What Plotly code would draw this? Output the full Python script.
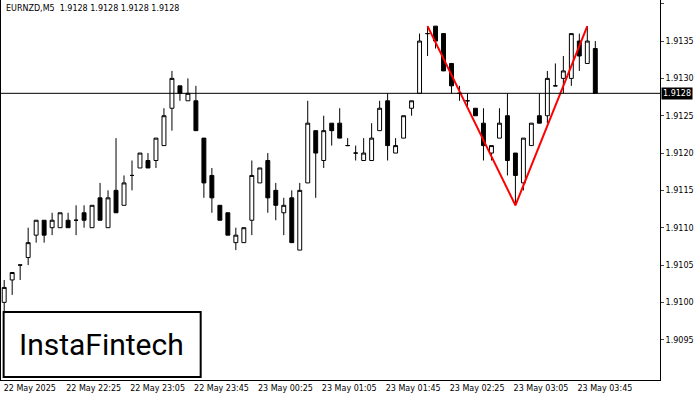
import plotly.graph_objects as go

# EURNZD M5, 22 May 21:45 .. 23 May 03:55
opens = [1.9100, 1.9103, 1.9105, 1.9106, 1.9109, 1.9111, 1.9110, 1.9110, 1.9111, 1.9111,
         1.9112, 1.9110, 1.9114, 1.9110, 1.9115, 1.9113, 1.9117, 1.9118, 1.9119, 1.9119,
         1.9121, 1.9126, 1.9129, 1.9127, 1.9127, 1.9122, 1.9117, 1.9113, 1.9112, 1.9108,
         1.9108, 1.9111, 1.9116, 1.9119, 1.9115, 1.9112, 1.9114, 1.9107, 1.9116, 1.9123,
         1.9119, 1.9124, 1.9124, 1.9121, 1.9120, 1.9119, 1.9119, 1.9123, 1.9127, 1.9120,
         1.9122, 1.9126, 1.9128, 1.9136, 1.9137, 1.9136, 1.9132, 1.9128, 1.9127, 1.9126,
         1.9124, 1.9120, 1.9122, 1.9125, 1.9120, 1.9116, 1.9121, 1.9125, 1.9125, 1.9129,
         1.9130, 1.9130, 1.9135, 1.9132, 1.9134]
highs = [1.9103, 1.9104, 1.9105, 1.9110, 1.9111, 1.9111, 1.9112, 1.9112, 1.9112, 1.9113,
         1.9113, 1.9113, 1.9116, 1.9115, 1.9122, 1.9117, 1.9119, 1.9120, 1.9120, 1.9122,
         1.9126, 1.9131, 1.9129, 1.9130, 1.9129, 1.9122, 1.9118, 1.9113, 1.9112, 1.9110,
         1.9110, 1.9119, 1.9118, 1.9120, 1.9116, 1.9114, 1.9115, 1.9116, 1.9127, 1.9123,
         1.9125, 1.9124, 1.9126, 1.9122, 1.9121, 1.9122, 1.9124, 1.9127, 1.9128, 1.9122,
         1.9125, 1.9127, 1.9136, 1.9137, 1.9137, 1.9136, 1.9132, 1.9129, 1.9128, 1.9126,
         1.9126, 1.9121, 1.9126, 1.9128, 1.9120, 1.9122, 1.9124, 1.9128, 1.9131, 1.9132,
         1.9133, 1.9136, 1.9136, 1.9137, 1.9135]
lows = [1.9097, 1.9101, 1.9103, 1.9105, 1.9108, 1.9108, 1.9109, 1.9110, 1.9110, 1.9109,
        1.9110, 1.9110, 1.9111, 1.9110, 1.9112, 1.9113, 1.9115, 1.9118, 1.9118, 1.9118,
        1.9121, 1.9123, 1.9127, 1.9127, 1.9123, 1.9114, 1.9112, 1.9111, 1.9109, 1.9107,
        1.9108, 1.9109, 1.9116, 1.9112, 1.9111, 1.9109, 1.9108, 1.9107, 1.9116, 1.9114,
        1.9118, 1.9121, 1.9122, 1.9121, 1.9119, 1.9119, 1.9119, 1.9123, 1.9119, 1.9120,
        1.9122, 1.9125, 1.9128, 1.9133, 1.9134, 1.9131, 1.9128, 1.9127, 1.9126, 1.9125,
        1.9119, 1.9119, 1.9122, 1.9117, 1.9113, 1.9115, 1.9121, 1.9124, 1.9124, 1.9129,
        1.9128, 1.9129, 1.9131, 1.9132, 1.9128]
closes = [1.9102, 1.9104, 1.9105, 1.9108, 1.9111, 1.9109, 1.9111, 1.9112, 1.9110, 1.9111,
          1.9111, 1.9113, 1.9111, 1.9114, 1.9112, 1.9116, 1.9117, 1.9120, 1.9118, 1.9122,
          1.9125, 1.9130, 1.9128, 1.9128, 1.9123, 1.9116, 1.9114, 1.9111, 1.9109, 1.9109,
          1.9110, 1.9117, 1.9118, 1.9114, 1.9113, 1.9113, 1.9108, 1.9115, 1.9124, 1.9120,
          1.9123, 1.9123, 1.9122, 1.9121, 1.9120, 1.9120, 1.9122, 1.9126, 1.9121, 1.9121,
          1.9125, 1.9127, 1.9135, 1.9136, 1.9135, 1.9131, 1.9129, 1.9128, 1.9127, 1.9125,
          1.9121, 1.9121, 1.9124, 1.9119, 1.9117, 1.9122, 1.9124, 1.9124, 1.9130, 1.9129,
          1.9131, 1.9136, 1.9133, 1.9135, 1.9128]

tick_idx = [0, 8, 16, 24, 32, 40, 48, 56, 64, 72]
tick_labels = ["22 May 2025", "22 May 22:25", "22 May 23:05", "22 May 23:45", "23 May 00:25",
               "23 May 01:05", "23 May 01:45", "23 May 02:25", "23 May 03:05", "23 May 03:45"]
y_ticks = [1.9095, 1.9100, 1.9105, 1.9110, 1.9115, 1.9120, 1.9125, 1.9130, 1.9135, 1.9140]
last_price = 1.9128

# double top pattern points (candle index, price)
pattern_idx = [53, 64, 73]
pattern_price = [1.9137, 1.9113, 1.9137]

idx = list(range(len(opens)))

fig = go.Figure()
fig.add_trace(go.Candlestick(
    x=idx, open=opens, high=highs, low=lows, close=closes,
    increasing=dict(line=dict(color="black", width=1), fillcolor="white"),
    decreasing=dict(line=dict(color="black", width=1), fillcolor="black"),
    whiskerwidth=0, showlegend=False, hoverinfo="skip"))
fig.add_trace(go.Scatter(x=pattern_idx, y=pattern_price, mode="lines",
                         line=dict(color="#ff0000", width=2), showlegend=False))

fig.add_hline(y=last_price, line=dict(color="black", width=1))

fig.update_layout(
    width=700, height=400,
    margin=dict(l=1, r=40, t=0, b=20, autoexpand=False),
    paper_bgcolor="white", plot_bgcolor="white",
    font=dict(family="DejaVu Sans", size=8, color="black"),
    xaxis=dict(range=[-0.4, 82.1], rangeslider=dict(visible=False), automargin=False,
               tickvals=[i + 3.2 for i in tick_idx], ticktext=tick_labels,
               showgrid=False, zeroline=False, showline=True, linecolor="black",
               mirror=True, ticks="", tickfont=dict(size=8)),
    yaxis=dict(range=[1.90896, 1.91405], side="right", tickvals=y_ticks, automargin=False,
               tickformat=".4f", showgrid=False, zeroline=False, showline=True,
               linecolor="black", mirror=True, ticks="outside", ticklen=3,
               tickfont=dict(size=8)),
)

# current price label on the axis
fig.add_annotation(x=1, xref="paper", xanchor="left", y=last_price, yref="y",
                   text="1.9128", showarrow=False, bgcolor="black",
                   font=dict(color="white", size=8), xshift=1)

fig.add_annotation(x=0.005, xref="paper", y=0.995, yref="paper", xanchor="left",
                   yanchor="top", text="EURNZD,M5  1.9128 1.9128 1.9128 1.9128",
                   showarrow=False, font=dict(size=8))

# logo box
fig.add_shape(type="rect", xref="paper", yref="paper", x0=0.004, x1=0.303,
              y0=0.008, y1=0.179, fillcolor="white", line=dict(color="black", width=2))
fig.add_annotation(x=0.153, xref="paper", xanchor="center", y=0.094, yref="paper",
                   yanchor="middle", text="InstaFintech", showarrow=False,
                   font=dict(size=30, family="Roboto, Liberation Sans"))

fig.write_html("out.html", post_script="document.body.style.margin='0';",
               config={"displayModeBar": False})
